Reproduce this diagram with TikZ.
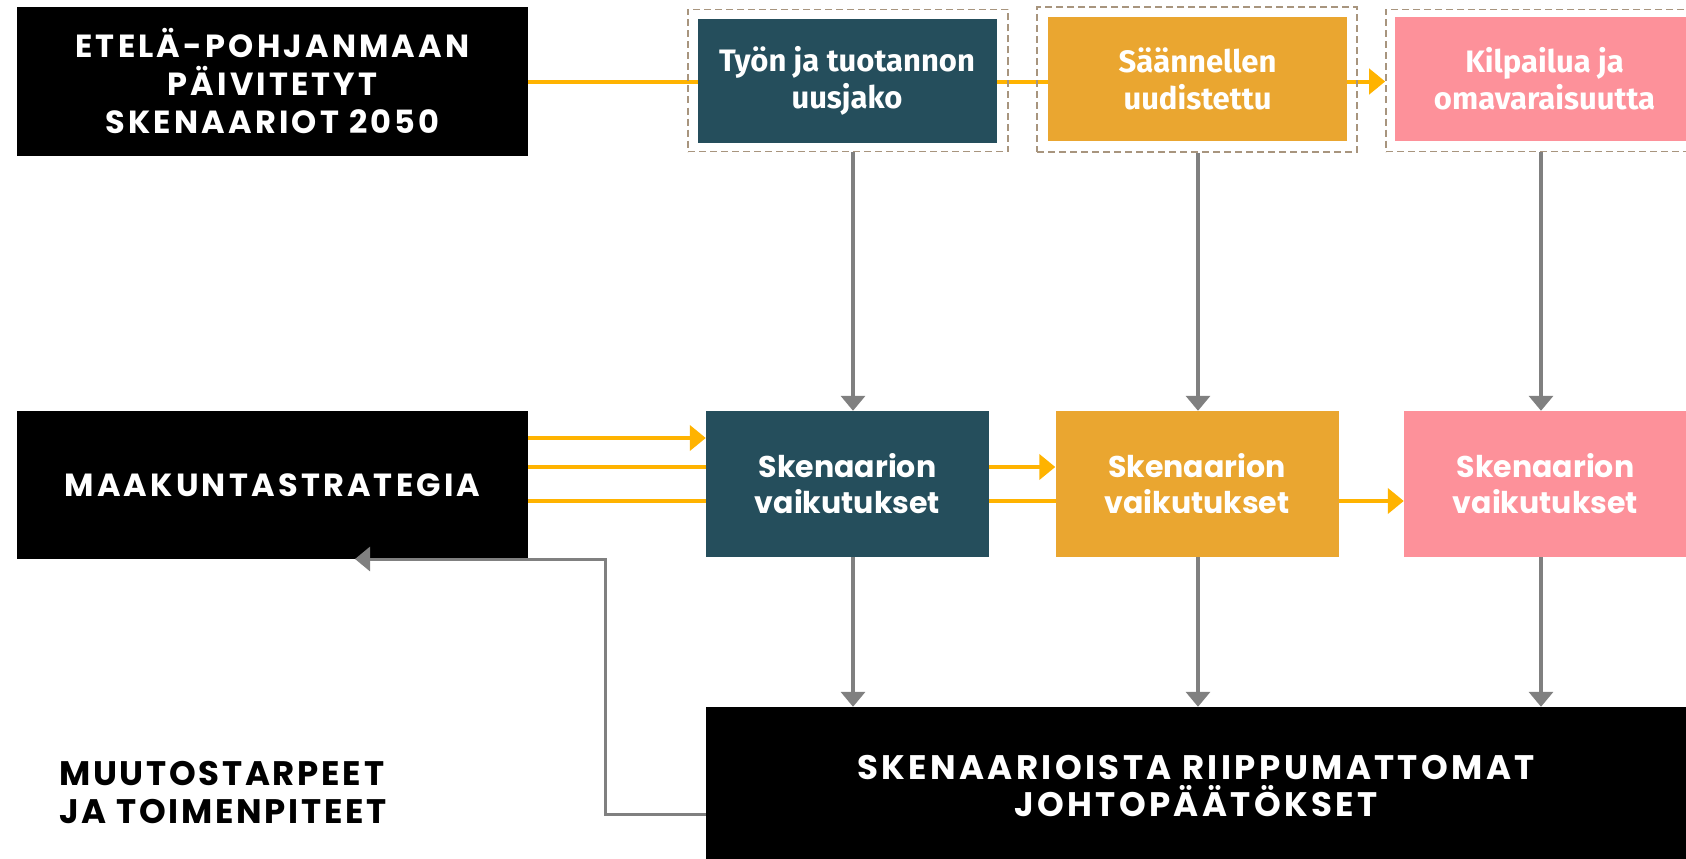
\documentclass[tikz,border=0pt]{standalone}
\usepackage{fontspec}
\setmainfont{Fira Sans}
\newfontfamily\capsfont{Poppins}[LetterSpace=10]
\newfontfamily\capsmid{Poppins}[LetterSpace=10]
\newfontfamily\capsnarrow{Poppins}[LetterSpace=8]
\newfontfamily\boxfont{Poppins}
\usetikzlibrary{arrows.meta,backgrounds}
\definecolor{cteal}{HTML}{254E5C}
\definecolor{corange}{HTML}{EAA630}
\definecolor{cpink}{HTML}{FD919A}
\definecolor{cyellow}{HTML}{FFB300}
\definecolor{cgray}{HTML}{808080}
\definecolor{cdash}{HTML}{A8957E}
\tikzset{
  blackbox/.style={fill=black, text=white, inner sep=0pt, align=center},
  topcaps/.style={font=\capsfont\bfseries\fontsize{32}{38}\selectfont},
  scenbox/.style={inner sep=0pt, text=white, align=center, minimum width=299pt, minimum height=124pt,
    font=\bfseries\fontsize{31}{36.5}\selectfont},
  impbox/.style={inner sep=0pt, text=white, align=center, minimum width=283pt, minimum height=146pt,
    font=\boxfont\bfseries\fontsize{30}{36}\selectfont},
  dashbox/.style={draw=cdash, line width=1.6pt, dash pattern=on 7pt off 4pt, minimum width=320pt, minimum height=142pt, inner sep=0pt},
  yarr/.style={draw=cyellow, line width=4pt, -{Triangle[length=16pt,width=25pt]}},
  garr/.style={draw=cgray, line width=3.5pt, -{Triangle[length=15pt,width=24pt]}},
}
\begin{document}
\begin{tikzpicture}[x=1pt,y=-1pt]
\useasboundingbox (0,0) rectangle (1686,859);
% main boxes
\node[blackbox, topcaps, minimum width=511pt, minimum height=148pt] (top) at (272.5,81.5)
  {ETELÄ-POHJANMAAN\\PÄIVITETYT\\SKENAARIOT 2050};
\node[blackbox, topcaps, minimum width=511pt, minimum height=148pt] (maak) at (272.5,485)
  {MAAKUNTASTRATEGIA};
\node[blackbox, font=\capsmid\bfseries\fontsize{34}{37}\selectfont, minimum width=980pt, minimum height=158pt] (bot) at (1196,786)
  {SKENAARIOISTA RIIPPUMATTOMAT\\JOHTOPÄÄTÖKSET};
\node[anchor=west, align=left, inner sep=0pt, font=\capsnarrow\bfseries\fontsize{34}{38}\selectfont] (muutos) at (59,793)
  {MUUTOSTARPEET\\JA TOIMENPITEET};
% dashed frames
\node[dashbox] (d1) at (848,80.5) {};
\node[dashbox, minimum height=145pt] (d2) at (1197,79.5) {};
\node[dashbox] (d3) at (1546,80.5) {};
% scenario boxes
\node[scenbox, fill=cteal] (s1) at (847,80.7) {Työn ja tuotannon\\uusjako};
\node[scenbox, fill=corange] (s2) at (1197.5,78.7) {Säännellen\\uudistettu};
\node[scenbox, fill=cpink] (s3) at (1544.5,78.7) {Kilpailua ja\\omavaraisuutta};
% impact boxes
\node[impbox, fill=cteal] (m1) at (847.5,484) {Skenaarion\\vaikutukset};
\node[impbox, fill=corange] (m2) at (1197,484) {Skenaarion\\vaikutukset};
\node[impbox, fill=cpink] (m3) at (1545.5,484) {Skenaarion\\vaikutukset};
% helper coordinates
\coordinate (c1) at (853,0);
\coordinate (c2) at (1198,0);
\coordinate (c3) at (1541,0);
\coordinate (y1) at (0,438);
\coordinate (y2) at (0,467);
\coordinate (y3) at (0,501);
\coordinate (fb1) at (605,814);
\coordinate (fb2) at (605,559);
\coordinate (fbend) at (355,559);
% yellow connectors behind boxes
\begin{scope}[on background layer]
\draw[yarr] (top.east) -- (top.east -| d3.west);
\draw[yarr] (maak.east |- y1) -- (m1.west |- y1);
\draw[yarr] (maak.east |- y2) -- (m2.west |- y2);
\draw[yarr] (maak.east |- y3) -- (m3.west |- y3);
\end{scope}
% gray connectors
\draw[garr] (d1.south -| c1) -- (m1.north -| c1);
\draw[garr] (d2.south -| c2) -- (m2.north -| c2);
\draw[garr] (d3.south -| c3) -- (m3.north -| c3);
\draw[garr] (m1.south -| c1) -- (bot.north -| c1);
\draw[garr] (m2.south -| c2) -- (bot.north -| c2);
\draw[garr] (m3.south -| c3) -- (bot.north -| c3);
\draw[garr, line width=3pt] (bot.west |- fb1) -- (fb1) -- (fb2) -- (fbend);
\end{tikzpicture}
\end{document}
